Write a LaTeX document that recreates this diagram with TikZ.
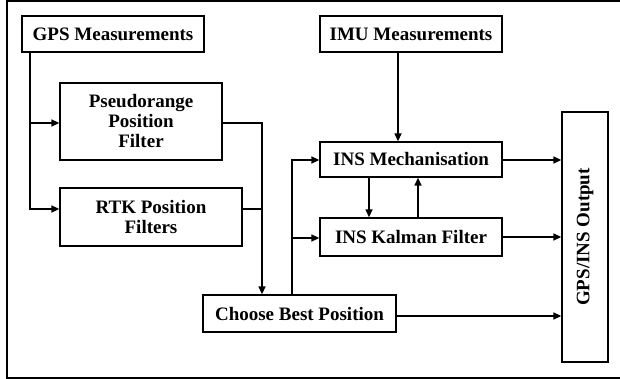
\documentclass[tikz,border=0pt]{standalone}
\usepackage{fontspec}
\setmainfont{Liberation Serif}
\usetikzlibrary{arrows.meta}
\begin{document}
\begin{tikzpicture}[x=1pt,y=-1pt,
  box/.style={draw,line width=1.3pt,rectangle,inner sep=0pt,align=center,
    font=\fontsize{19}{20}\selectfont\bfseries},
  conn/.style={line width=1.3pt},
  arr/.style={line width=1.3pt,-{Triangle[length=8pt,width=7pt]}}]
\useasboundingbox (0,0) rectangle (620,379);
\draw[line width=2pt] (630,1) -- (7,1) -- (7,377.5) -- (630,377.5);
\node[box,minimum width=182pt,minimum height=36pt] (gps) at (113,34) {GPS Measurements};
\node[box,minimum width=162pt,minimum height=77pt] (pr) at (141,121.5) {Pseudorange\\Position\\Filter};
\node[box,minimum width=182pt,minimum height=58pt] (rtk) at (151,217) {RTK Position\\Filters};
\node[box,minimum width=193pt,minimum height=37pt] (cb) at (299.5,313.5) {Choose Best Position};
\node[box,minimum width=182pt,minimum height=36pt] (imu) at (411,34) {IMU Measurements};
\node[box,minimum width=182pt,minimum height=35pt] (mech) at (411,159.5) {INS Mechanisation};
\node[box,minimum width=182pt,minimum height=38pt] (kal) at (411,237) {INS Kalman Filter};
\node[box,minimum width=46pt,minimum height=250pt] (out) at (585,237) {};
\node[font=\fontsize{19}{20}\selectfont\bfseries,rotate=90] (outt) at (out.center) {GPS/INS Output};
\coordinate (gx) at (30,0);
\coordinate (px) at (262,0);
\coordinate (cx) at (292,0);
\draw[arr] (gps.south -| gx) |- (rtk.west |- 0,209);
\draw[arr] (gx |- 0,123) -- (pr.west |- 0,123);
\draw[arr] (pr.east |- 0,123) -| (cb.north -| px);
\draw[conn] (rtk.east |- 0,209) -- (px |- 0,209);
\draw[arr] (cb.north -| cx) |- (mech.west |- 0,160);
\draw[arr] (cx |- 0,238) -- (kal.west |- 0,238);
\draw[arr] (imu.south -| 398,0) -- (mech.north -| 398,0);
\draw[arr] (mech.south -| 369,0) -- (kal.north -| 369,0);
\draw[arr] (kal.north -| 418,0) -- (mech.south -| 418,0);
\draw[arr] (mech.east |- 0,160) -- (out.west |- 0,160);
\draw[arr] (kal.east |- 0,237) -- (out.west |- 0,237);
\draw[arr] (cb.east |- 0,316) -- (out.west |- 0,316);
\end{tikzpicture}
\end{document}
